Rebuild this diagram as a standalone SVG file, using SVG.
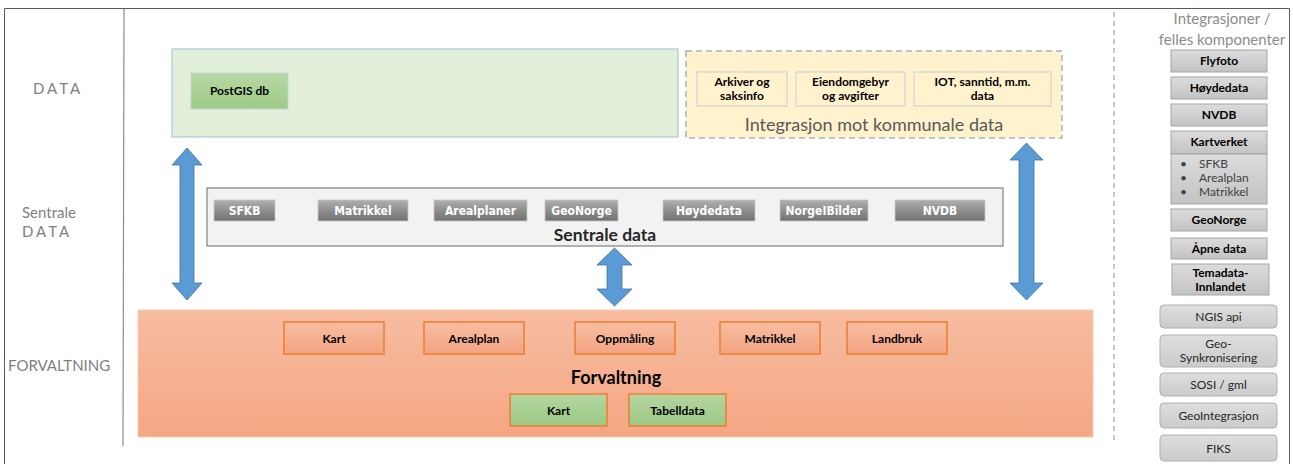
<svg xmlns="http://www.w3.org/2000/svg" width="1293" height="464" viewBox="0 0 1293 464">
<style>
text{font-family:Lato,"Open Sans","Liberation Sans",sans-serif}
.lbl{fill:#7f7f7f;font-size:15px}
.b{font-weight:bold;font-size:12px;fill:#000;text-anchor:middle}
.w{font-weight:bold;font-size:12px;fill:#fff;text-anchor:middle;font-family:"DejaVu Sans Condensed","Liberation Sans Narrow",Lato,sans-serif}
.r{font-size:12px;fill:#262626;text-anchor:middle}
.gb{fill:url(#gg);stroke:#a6a6a6;stroke-width:1}
.rb{fill:url(#rg);stroke:#b0b0b0;stroke-width:1}
.ob{fill:url(#og);stroke:#ed7d31;stroke-width:1.5}
.grn{fill:url(#greeng);stroke:#ed7d31;stroke-width:1.5}
.dk{fill:url(#dg);stroke:#c8c8c8;stroke-width:0.8}
.arr{fill:#5b9bd5;stroke:#41719c;stroke-width:0.8}
</style>
<defs>
<linearGradient id="gg" x1="0" y1="0" x2="0" y2="1"><stop offset="0" stop-color="#dcdcdc"/><stop offset="1" stop-color="#c3c3c3"/></linearGradient>
<linearGradient id="rg" x1="0" y1="0" x2="0" y2="1"><stop offset="0" stop-color="#dedede"/><stop offset="1" stop-color="#cbcbcb"/></linearGradient>
<linearGradient id="og" x1="0" y1="0" x2="0" y2="1"><stop offset="0" stop-color="#f7bda2"/><stop offset="1" stop-color="#f4a482"/></linearGradient>
<linearGradient id="fg" x1="0" y1="0" x2="0" y2="1"><stop offset="0" stop-color="#f7bca1"/><stop offset="1" stop-color="#f5a683"/></linearGradient>
<linearGradient id="greeng" x1="0" y1="0" x2="0" y2="1"><stop offset="0" stop-color="#b4d6a0"/><stop offset="1" stop-color="#9cc884"/></linearGradient>
<linearGradient id="pg" x1="0" y1="0" x2="0" y2="1"><stop offset="0" stop-color="#b7d9a4"/><stop offset="1" stop-color="#9dca85"/></linearGradient>
<linearGradient id="dg" x1="0" y1="0" x2="0" y2="1"><stop offset="0" stop-color="#b0b0b0"/><stop offset="0.5" stop-color="#8e8e8e"/><stop offset="1" stop-color="#707070"/></linearGradient>
</defs>
<rect x="0" y="0" width="1293" height="464" fill="#fff"/>
<g id="frame" fill="none" stroke="#595959">
<path d="M4.5 464 V8.5 H1289.5 V464" stroke-width="1"/>
<line x1="124" y1="9" x2="123" y2="446" stroke="#8c8c8c" stroke-width="1.2"/>
<line x1="1114" y1="12" x2="1114" y2="440" stroke="#a0a0a0" stroke-width="1.2" stroke-dasharray="5,4"/>
</g>
<g id="lane-labels">
<text class="lbl" x="33" y="94" letter-spacing="3">DATA</text>
<text class="lbl" x="22" y="218">Sentrale</text>
<text class="lbl" x="22" y="237" letter-spacing="3">DATA</text>
<text class="lbl" x="8" y="371">FORVALTNING</text>
</g>
<g id="connectors">
<path class="arr" d="M187 148 L202 165 L194 165 L194 283 L202 283 L187 300 L172 283 L180 283 L180 165 L172 165 Z"/>
<path class="arr" d="M614.5 248 L632 265 L622 265 L622 289 L632 289 L614.5 306 L597 289 L607 289 L607 265 L597 265 Z"/>
<path class="arr" d="M1026.5 143 L1043 160 L1034 160 L1034 283 L1043 283 L1026.5 300 L1010 283 L1019 283 L1019 160 L1010 160 Z"/>
</g>
<g id="data-container">
<rect x="172" y="49" width="506" height="88" fill="#e2efda" stroke="#b4c4d8" stroke-width="1.2"/>
</g>
<g id="postgis">
<rect x="191" y="73" width="97" height="36" fill="url(#pg)" stroke="#c5d3e0" stroke-width="1"/>
<text class="b" x="239.5" y="95">PostGIS db</text>
</g>
<g id="kommunale-container">
<rect x="686" y="51" width="376" height="87" fill="#fff2cc" stroke="#a5b3c6" stroke-width="1.5" stroke-dasharray="6,4"/>
<text x="874" y="131" text-anchor="middle" font-size="18" fill="#595959">Integrasjon mot kommunale data</text>
</g>
<g id="arkiver">
<rect x="697" y="72" width="90" height="34" fill="#fff2cc" stroke="#c5cdd8"/>
<text class="b" x="742" y="86">Arkiver og</text><text class="b" x="742" y="100">saksinfo</text>
</g>
<g id="eiendom">
<rect x="796" y="72" width="109" height="34" fill="#fff2cc" stroke="#c5cdd8"/>
<text class="b" x="850.5" y="86">Eiendomgebyr</text><text class="b" x="850.5" y="100">og avgifter</text>
</g>
<g id="iot">
<rect x="914" y="72" width="137" height="34" fill="#fff2cc" stroke="#c5cdd8"/>
<text class="b" x="982.5" y="86">IOT, sanntid, m.m.</text><text class="b" x="982.5" y="100">data</text>
</g>
<g id="sentrale-container">
<rect x="207" y="188" width="796" height="58" fill="#f2f2f2" stroke="#7f7f7f" stroke-width="1.2"/>
<text x="605" y="241" text-anchor="middle" font-size="17.5" font-weight="bold" fill="#262626">Sentrale data</text>
</g>
<g id="s-sfkb"><rect class="dk" x="214" y="200" width="61" height="21"/><text class="w" x="244.5" y="215">SFKB</text></g>
<g id="s-matrikkel"><rect class="dk" x="318" y="200" width="90" height="21"/><text class="w" x="363" y="215">Matrikkel</text></g>
<g id="s-arealplaner"><rect class="dk" x="434" y="200" width="93" height="21"/><text class="w" x="480.5" y="215">Arealplaner</text></g>
<g id="s-geonorge"><rect class="dk" x="545" y="200" width="73" height="21"/><text class="w" x="581.5" y="215">GeoNorge</text></g>
<g id="s-hoydedata"><rect class="dk" x="663" y="200" width="92" height="21"/><text class="w" x="709" y="215">Høydedata</text></g>
<g id="s-norgeibilder"><rect class="dk" x="780" y="200" width="88" height="21"/><text class="w" x="824" y="215">NorgeIBilder</text></g>
<g id="s-nvdb"><rect class="dk" x="895" y="200" width="90" height="21"/><text class="w" x="940" y="215">NVDB</text></g>
<g id="forvaltning-container">
<rect x="138" y="310" width="955" height="127" fill="url(#fg)" stroke="#f8cbad" stroke-width="1"/>
<text x="616" y="384" text-anchor="middle" font-size="18" font-weight="bold" fill="#000">Forvaltning</text>
</g>
<g id="f-kart"><rect class="ob" x="284" y="322" width="100" height="32"/><text class="b" x="334" y="343">Kart</text></g>
<g id="f-arealplan"><rect class="ob" x="424" y="322" width="100" height="32"/><text class="b" x="474" y="343">Arealplan</text></g>
<g id="f-oppmaling"><rect class="ob" x="575" y="322" width="100" height="32"/><text class="b" x="625" y="343">Oppmåling</text></g>
<g id="f-matrikkel"><rect class="ob" x="720" y="322" width="100" height="32"/><text class="b" x="770" y="343">Matrikkel</text></g>
<g id="f-landbruk"><rect class="ob" x="847" y="322" width="100" height="32"/><text class="b" x="897" y="343">Landbruk</text></g>
<g id="f-kart2"><rect class="grn" x="510" y="394" width="97" height="32"/><text class="b" x="558.5" y="415">Kart</text></g>
<g id="f-tabelldata"><rect class="grn" x="629" y="394" width="97" height="32"/><text class="b" x="677.5" y="415">Tabelldata</text></g>
<g id="integrasjoner-title">
<text x="1222" y="24" text-anchor="middle" font-size="15" fill="#8c8c8c">Integrasjoner /</text>
<text x="1222" y="45" text-anchor="middle" font-size="15" fill="#8c8c8c">felles komponenter</text>
</g>
<g id="i-flyfoto"><rect class="gb" x="1171" y="50" width="96" height="22"/><text class="b" x="1219" y="65">Flyfoto</text></g>
<g id="i-hoydedata"><rect class="gb" x="1171" y="77" width="96" height="22"/><text class="b" x="1219" y="92">Høydedata</text></g>
<g id="i-nvdb"><rect class="gb" x="1171" y="104" width="96" height="22"/><text class="b" x="1219" y="119">NVDB</text></g>
<g id="i-kartverket">
<rect class="gb" x="1171" y="131" width="96" height="23"/><text class="b" x="1219" y="146">Kartverket</text>
<rect class="gb" x="1171" y="154" width="96" height="50"/>
<g font-size="12" fill="#404040">
<text x="1180" y="168">•</text><text x="1199" y="168">SFKB</text>
<text x="1180" y="182">•</text><text x="1199" y="182">Arealplan</text>
<text x="1180" y="196">•</text><text x="1199" y="196">Matrikkel</text>
</g>
</g>
<g id="i-geonorge"><rect class="gb" x="1171" y="209" width="96" height="22"/><text class="b" x="1219" y="224">GeoNorge</text></g>
<g id="i-apne"><rect class="gb" x="1171" y="238" width="96" height="21"/><text class="b" x="1219" y="253">Åpne data</text></g>
<g id="i-temadata"><rect class="gb" x="1172" y="264" width="97" height="31"/><text class="b" x="1220.5" y="277">Temadata-</text><text class="b" x="1220.5" y="291">Innlandet</text></g>
<g id="i-ngis"><rect class="rb" x="1160" y="305" width="117" height="23" rx="4"/><text class="r" x="1218.5" y="321">NGIS api</text></g>
<g id="i-geosynk"><rect class="rb" x="1160" y="335" width="117" height="32" rx="4"/><text class="r" x="1218.5" y="348">Geo-</text><text class="r" x="1218.5" y="362">Synkronisering</text></g>
<g id="i-sosi"><rect class="rb" x="1160" y="373" width="117" height="23" rx="4"/><text class="r" x="1218.5" y="389">SOSI / gml</text></g>
<g id="i-geointegrasjon"><rect class="rb" x="1160" y="403" width="117" height="25" rx="4"/><text class="r" x="1218.5" y="420">GeoIntegrasjon</text></g>
<g id="i-fiks"><rect class="rb" x="1160" y="435" width="117" height="26" rx="4"/><text class="r" x="1218.5" y="453">FIKS</text></g>
</svg>
